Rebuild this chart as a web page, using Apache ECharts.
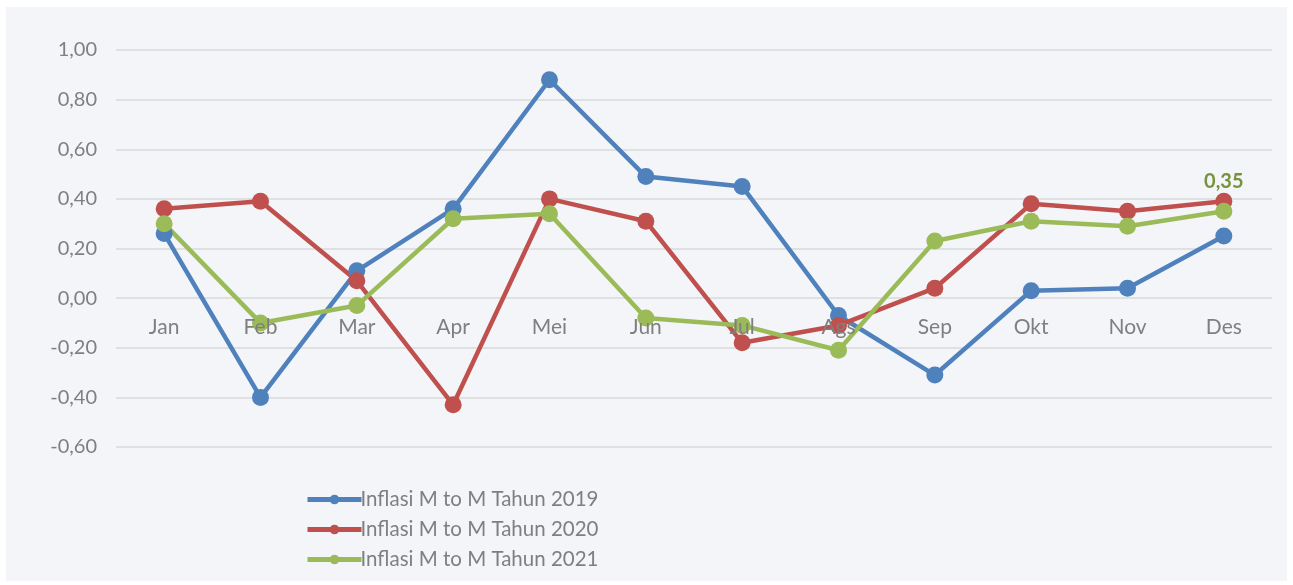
<!DOCTYPE html>
<html>
<head>
<meta charset="utf-8">
<script src="https://cdn.jsdelivr.net/npm/echarts@6/dist/echarts.min.js"></script>
<style>
  html, body { margin: 0; padding: 0; background: #ffffff; }
  #chart { position: absolute; left: 6px; top: 7px; width: 1281px; height: 574px; background: #f3f5f9; }
</style>
</head>
<body>
<div id="chart"></div>
<script>
// bulan
const months = ["Jan", "Feb", "Mar", "Apr", "Mei", "Jun", "Jul", "Ags", "Sep", "Okt", "Nov", "Des"];
const inflasi2019 = [0.26, -0.40, 0.11, 0.36, 0.88, 0.49, 0.45, -0.07, -0.31, 0.03, 0.04, 0.25];
const inflasi2020 = [0.36, 0.39, 0.07, -0.43, 0.40, 0.31, -0.18, -0.11, 0.04, 0.38, 0.35, 0.39];
const inflasi2021 = [0.30, -0.10, -0.03, 0.32, 0.34, -0.08, -0.11, -0.21, 0.23, 0.31, 0.29, 0.35];
const seriesNames = ["Inflasi M to M Tahun 2019", "Inflasi M to M Tahun 2020", "Inflasi M to M Tahun 2021"];
const colors = ["#4f81bd", "#c0504d", "#9bbb59"];

const chart = echarts.init(document.getElementById("chart"));

function mkSeries(name, data, color, lastLabel) {
  return {
    name: name,
    type: "line",
    data: data,
    symbol: "circle",
    symbolSize: 17,
    lineStyle: { width: 4.5, color: color },
    itemStyle: { color: color },
    label: {
      show: lastLabel,
      position: "top",
      distance: 11,
      fontFamily: "Lato",
      fontSize: 20,
      fontWeight: "bold",
      color: "#77933c",
      formatter: function (p) {
        return p.dataIndex === data.length - 1 ? p.value.toFixed(2).replace(".", ",") : "";
      },
    },
    emphasis: { disabled: true },
    animation: false,
  };
}

const option = {
  animation: false,
  grid: { left: 110, right: 15, top: 43, bottom: 134 },
  legend: {
    orient: "vertical",
    left: 294,
    top: 477,
    itemWidth: 54,
    itemHeight: 12,
    itemGap: 9,
    lineStyle: { width: 5 },
    textStyle: { fontFamily: "Lato", fontSize: 20.5, color: "#7f7f7f", padding: [0, 0, 0, -6] },
    data: seriesNames,
  },
  xAxis: {
    type: "category",
    data: months,
    boundaryGap: true,
    offset: -149, // label baris bulan di sekitar garis nol
    z: 5,
    axisLine: { show: false },
    axisTick: { show: false },
    axisLabel: { fontFamily: "Lato", fontSize: 21, color: "#7f7f7f", margin: 19 },
  },
  yAxis: {
    type: "value",
    min: -0.6,
    max: 1.0,
    interval: 0.2,
    axisLine: { show: false },
    axisTick: { show: false },
    splitLine: { lineStyle: { color: "#d9d9d9", width: 1.5 } },
    axisLabel: {
      fontFamily: "Lato",
      fontSize: 20,
      color: "#7f7f7f",
      margin: 19,
      formatter: function (v) { return v.toFixed(2).replace(".", ","); },
    },
  },
  series: [
    mkSeries(seriesNames[0], inflasi2019, colors[0], false),
    mkSeries(seriesNames[1], inflasi2020, colors[1], false),
    mkSeries(seriesNames[2], inflasi2021, colors[2], true),
  ],
};

chart.setOption(option);
</script>
</body>
</html>
